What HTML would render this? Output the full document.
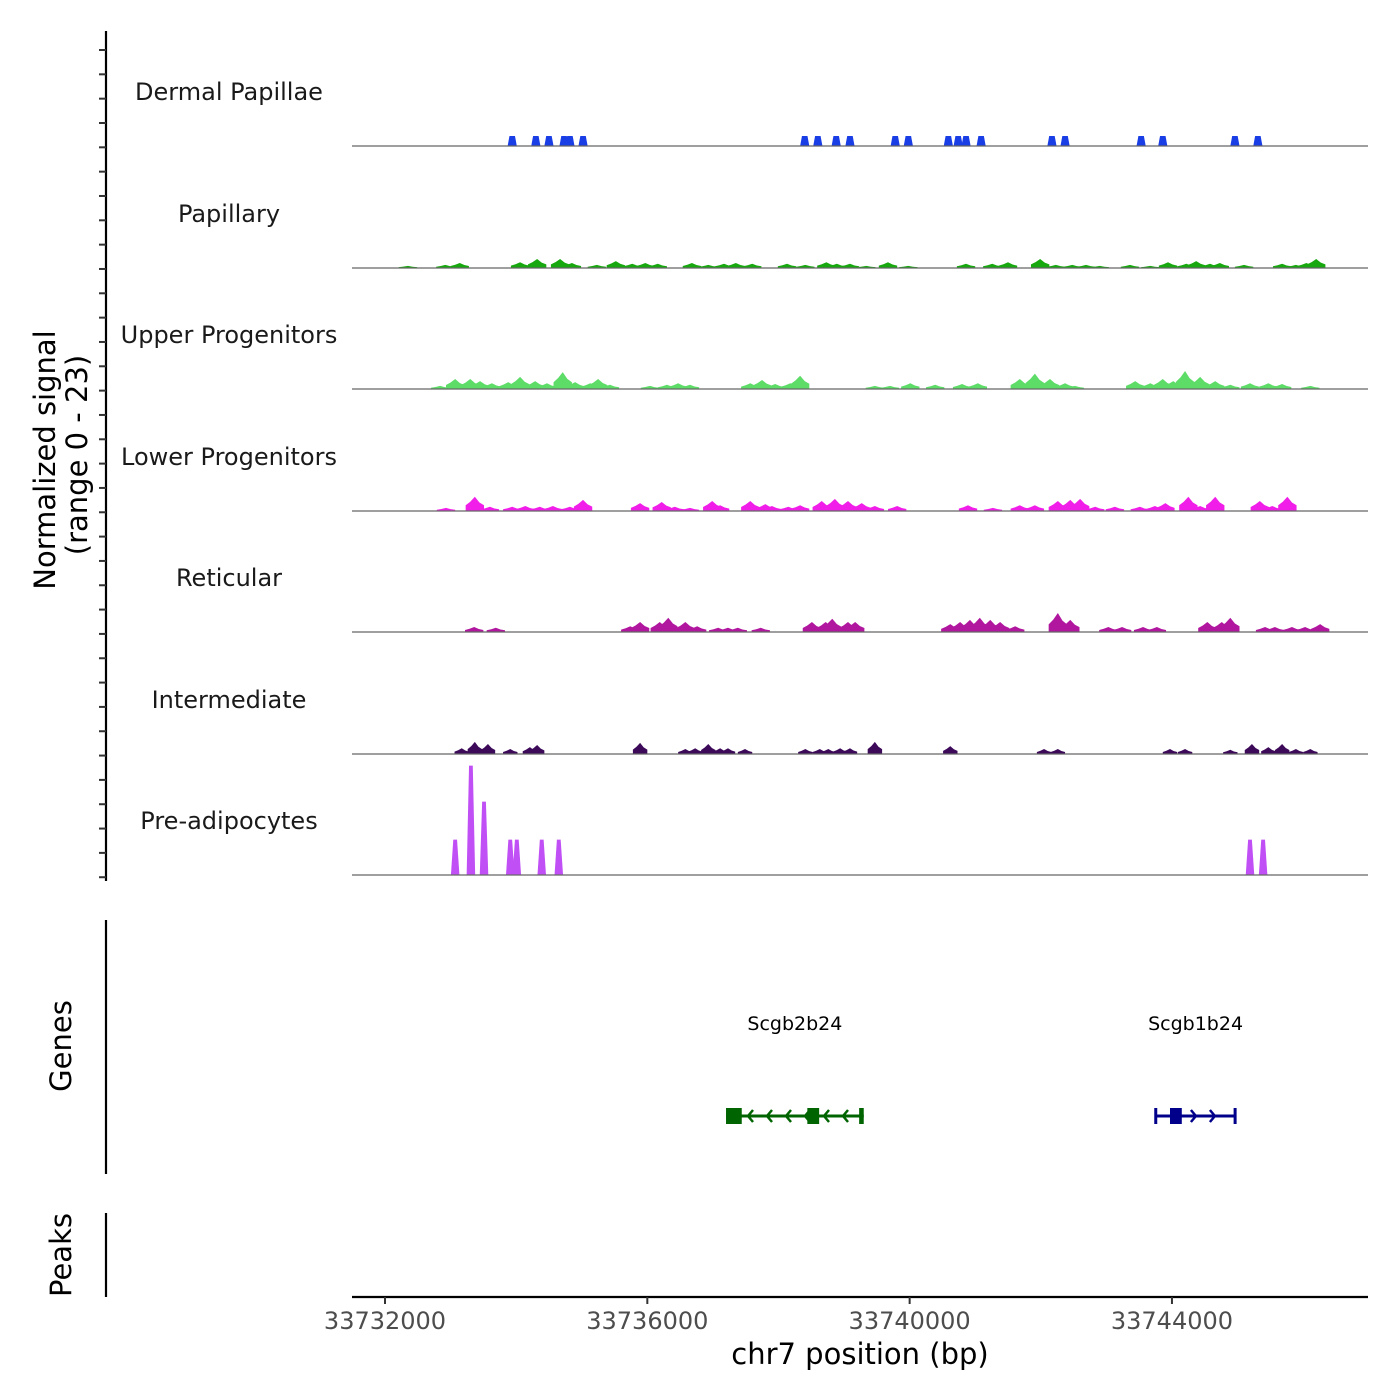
<!DOCTYPE html>
<html><head><meta charset="utf-8"><style>
html,body{margin:0;padding:0;background:#fff}
svg{display:block;font-family:"DejaVu Sans","Liberation Sans",sans-serif}
</style></head><body>
<svg id="chart" width="1400" height="1400" viewBox="0 0 1400 1400" xmlns="http://www.w3.org/2000/svg">
<g id="axes"></g>
<g id="tracks"></g>
<g id="genes"></g>
<text transform="translate(55,460) rotate(-90)" text-anchor="middle" font-size="29" fill="#000">Normalized signal</text>
<text transform="translate(87,455) rotate(-90)" text-anchor="middle" font-size="29" fill="#000">(range 0 - 23)</text>
<text transform="translate(71,1046) rotate(-90)" text-anchor="middle" font-size="29" fill="#000">Genes</text>
<text transform="translate(71,1255) rotate(-90)" text-anchor="middle" font-size="29" fill="#000">Peaks</text>
<text x="860" y="1364" text-anchor="middle" font-size="29" fill="#000">chr7 position (bp)</text>
</svg>
<script>
// ---- data (positions in kb on chr7, signal in normalized units) ----
const trackNames = ["Dermal Papillae","Papillary","Upper Progenitors","Lower Progenitors","Reticular","Intermediate","Pre-adipocytes"];
const trackColors = ["#1a3ee6","#17a80f","#5ddc68","#f01ee8","#b0169e","#3d0a5a","#c050f5"];
const dpPos = [33733.94,33734.30,33734.50,33734.73,33734.82,33735.02,33738.40,33738.60,33738.88,33739.09,33739.78,33739.98,33740.59,33740.74,33740.86,33741.09,33742.17,33742.37,33743.53,33743.86,33744.96,33745.31];
const dpVal = [1.9,1.9,1.9,1.9,1.9,1.9,1.9,1.9,1.9,1.9,1.9,1.9,1.9,1.9,1.9,1.9,1.9,1.9,1.9,1.9,1.9,1.9];
const papPos = [33732.35,33732.92,33733.14,33734.06,33734.32,33734.67,33734.85,33735.23,33735.52,33735.77,33735.97,33736.16,33736.68,33736.93,33737.17,33737.35,33737.60,33738.13,33738.41,33738.73,33738.89,33739.09,33739.34,33739.67,33739.98,33740.86,33741.26,33741.50,33741.99,33742.23,33742.48,33742.69,33742.90,33743.36,33743.67,33743.94,33744.22,33744.37,33744.58,33744.73,33745.10,33745.68,33745.89,33746.05,33746.20];
const papVal = [0.4,0.6,0.95,1.1,1.7,1.7,0.95,0.6,1.3,0.8,0.95,0.8,0.95,0.6,0.8,0.95,0.8,0.8,0.6,1.1,0.8,0.8,0.4,1.1,0.4,0.8,0.8,1.1,1.7,0.6,0.6,0.6,0.4,0.6,0.4,1.1,0.8,1.3,0.8,0.95,0.6,0.8,0.6,0.95,1.7];
const upPos = [33732.84,33733.07,33733.30,33733.45,33733.63,33733.88,33734.06,33734.29,33734.47,33734.71,33734.90,33735.13,33735.25,33735.43,33736.04,33736.30,33736.47,33736.65,33737.57,33737.75,33737.95,33738.18,33738.33,33739.47,33739.70,33740.01,33740.39,33740.80,33741.04,33741.68,33741.91,33742.14,33742.37,33742.52,33743.44,33743.67,33743.86,33744.02,33744.20,33744.43,33744.66,33744.89,33745.19,33745.47,33745.68,33746.11];
const upVal = [0.6,1.9,1.9,1.5,1.1,1.3,2.3,1.5,1.1,3.2,1.3,1.1,1.9,0.8,0.6,0.8,1.1,0.8,1.1,1.7,0.95,1.1,2.5,0.6,0.6,1.1,0.8,0.95,1.1,1.9,2.9,1.9,1.1,0.6,1.5,1.1,1.9,1.5,3.4,2.3,1.5,0.8,1.1,1.1,0.95,0.6];
const lpPos = [33732.93,33733.37,33733.60,33733.94,33734.14,33734.36,33734.56,33734.82,33735.02,33735.89,33736.22,33736.42,33736.65,33736.99,33737.11,33737.57,33737.80,33737.90,33738.15,33738.33,33738.66,33738.86,33739.06,33739.27,33739.47,33739.81,33740.89,33741.27,33741.68,33741.91,33742.26,33742.45,33742.60,33742.83,33743.13,33743.51,33743.74,33743.90,33744.25,33744.43,33744.66,33745.34,33745.53,33745.76];
const lpVal = [0.6,2.7,0.8,0.8,0.95,0.8,0.95,0.8,2.1,1.5,1.7,0.8,0.6,1.9,1.1,1.9,1.3,0.95,0.8,1.1,1.9,2.3,1.9,1.5,0.95,0.95,1.1,0.6,1.1,1.1,1.9,2.1,2.3,0.8,0.8,0.8,0.95,1.5,2.7,0.95,2.7,1.9,0.95,2.7];
const retPos = [33733.36,33733.69,33735.74,33735.89,33736.19,33736.32,33736.58,33736.76,33737.08,33737.23,33737.38,33737.73,33738.51,33738.72,33738.82,33739.06,33739.17,33740.62,33740.77,33740.92,33741.07,33741.23,33741.38,33741.61,33742.26,33742.45,33743.03,33743.24,33743.56,33743.77,33744.54,33744.76,33744.89,33745.42,33745.57,33745.83,33746.03,33746.26];
const retVal = [0.95,0.8,1.1,1.9,1.9,2.7,1.9,1.1,0.8,0.8,0.8,0.8,1.9,1.9,2.5,1.9,1.9,1.5,1.9,2.3,2.7,2.3,1.9,1.1,3.6,2.3,0.95,0.95,0.95,0.95,1.9,1.9,2.7,0.95,0.95,0.95,0.95,1.5];
const intPos = [33733.17,33733.37,33733.57,33733.91,33734.21,33734.32,33735.89,33736.58,33736.73,33736.93,33737.11,33737.23,33737.49,33738.41,33738.63,33738.76,33738.94,33739.09,33739.47,33740.62,33742.05,33742.26,33743.97,33744.20,33744.89,33745.22,33745.47,33745.68,33745.89,33746.11];
const intVal = [1.1,2.3,1.9,0.95,1.3,1.7,2.1,0.95,1.1,1.9,1.1,1.1,0.95,0.95,0.95,0.95,1.1,1.1,2.3,1.5,0.95,0.95,0.95,0.95,0.8,1.9,1.3,1.9,0.95,0.95];
const prePos = [33733.07,33733.31,33733.51,33733.91,33734.01,33734.39,33734.65,33745.19,33745.39];
const preVal = [6.7,20.7,13.9,6.7,6.7,6.7,6.7,6.7,6.7];
const xTicks = [33732000,33736000,33740000,33744000];
const geneNames = ["Scgb2b24","Scgb1b24"];
const geneStart = [33737.20,33743.74];
const geneEnd = [33739.30,33744.98];
const geneStrand = [-1,1];
const exonStarts = [[33737.20,33738.44,33739.23],[33743.73,33743.97,33744.94]];
const exonEnds = [[33737.44,33738.62,33739.30],[33743.77,33744.15,33744.98]];
const geneColors = ["#006400","#00008b"];

const allPos = [dpPos,papPos,upPos,lpPos,retPos,intPos,prePos];
const allVal = [dpVal,papVal,upVal,lpVal,retVal,intVal,preVal];
const halfW = [0.07,0.14,0.14,0.14,0.14,0.11,0.065];

// ---- scales ----
const X0 = 385, PXPERKB = 65.58;
function xs(kb){ return X0 + (kb - 33732) * PXPERKB; }
const baselines = [146,268,389,511,632,754,875];
const trackH = 121.5, maxSig = 23;
function ys(i, v){ return baselines[i] - v / maxSig * trackH; }

const NS = "http://www.w3.org/2000/svg";
function mk(tag, attrs, parent){ const e=document.createElementNS(NS,tag); for(const k in attrs) e.setAttribute(k,attrs[k]); parent.appendChild(e); return e; }

const axes = document.getElementById('axes');
const tracks = document.getElementById('tracks');
const genesG = document.getElementById('genes');

let l = mk('line',{x1:106,y1:31,x2:106,y2:881,stroke:'#000','stroke-width':2.2},axes);


for(let y=50; y<=878; y+=24.33){
  const t = mk('line',{x1:99,y1:y,x2:106,y2:y,stroke:'#333','stroke-width':2},axes);
  
  
}
l = mk('line',{x1:106,y1:920,x2:106,y2:1174,stroke:'#000','stroke-width':2.2},axes);


l = mk('line',{x1:106,y1:1213,x2:106,y2:1297,stroke:'#000','stroke-width':2.2},axes);


l = mk('line',{x1:352,y1:1297,x2:1368,y2:1297,stroke:'#000','stroke-width':2.2},axes);


xTicks.forEach(v=>{
  const x = xs(v/1000);
  const t = mk('line',{x1:x,y1:1297,x2:x,y2:1304,stroke:'#333','stroke-width':2},axes);
  
  
  const tx = mk('text',{x:x,y:1329,'text-anchor':'middle','font-size':24,fill:'#4d4d4d'},axes);
  tx.textContent = v;
  
  
});

trackNames.forEach((name,i)=>{
  const g = mk('g',{},tracks);
  
  
  const lab = mk('text',{x:229,y:baselines[i]-46,'text-anchor':'middle','font-size':24,fill:'#1a1a1a'},g);
  lab.textContent = name;
  
  
  const pos = allPos[i], val = allVal[i], hw = halfW[i];
  pos.forEach((p,j)=>{
    const xa = xs(p-hw), xb = xs(p+hw), xm = xs(p);
    const yb = baselines[i], yt = ys(i,val[j]);
    let pts;
    if(i===0 || i===6){
      const inset = (xb-xa)*(i===0?0.2:0.28);
      pts = `${xa},${yb} ${xa+inset},${yt} ${xb-inset},${yt} ${xb},${yb}`;
    } else {
      const q = (xb-xa)/4;
      pts = `${xa},${yb} ${xa},${yb-(yb-yt)*0.4} ${xa+q},${yb-(yb-yt)*0.65} ${xm},${yt} ${xb-q},${yb-(yb-yt)*0.6} ${xb},${yb-(yb-yt)*0.4} ${xb},${yb}`;
    }
    const pg = mk('polygon',{points:pts,fill:trackColors[i]},g);
    
    
  });
  const bl = mk('line',{x1:352,y1:baselines[i],x2:1368,y2:baselines[i],stroke:'#666','stroke-width':1.2},g);
  
  
});

geneNames.forEach((n,i)=>{
  const g = mk('g',{},genesG);
  
  
  const c = geneColors[i];
  const x1 = xs(geneStart[i]), x2 = xs(geneEnd[i]), y = 1116;
  const tl = mk('text',{x:(x1+x2)/2,y:1030,'text-anchor':'middle','font-size':19,fill:'#000'},g);
  tl.textContent = n;
  
  
  const ln = mk('line',{x1:x1,y1:y,x2:x2,y2:y,stroke:c,'stroke-width':3},g);
  
  
  for(let ax=x1+22; ax<x2-8; ax+=19){
    const d = geneStrand[i];
    const ar = mk('polyline',{points:`${ax-5*d},${y-6} ${ax},${y} ${ax-5*d},${y+6}`,fill:'none',stroke:c,'stroke-width':2.5},g);
    
    
  }
  exonStarts[i].forEach((s,k)=>{
    const ex = mk('rect',{x:xs(s),y:y-8,width:Math.max(3,xs(exonEnds[i][k])-xs(s)),height:16,fill:c},g);
    
    
  });
});
</script>
</body></html>
